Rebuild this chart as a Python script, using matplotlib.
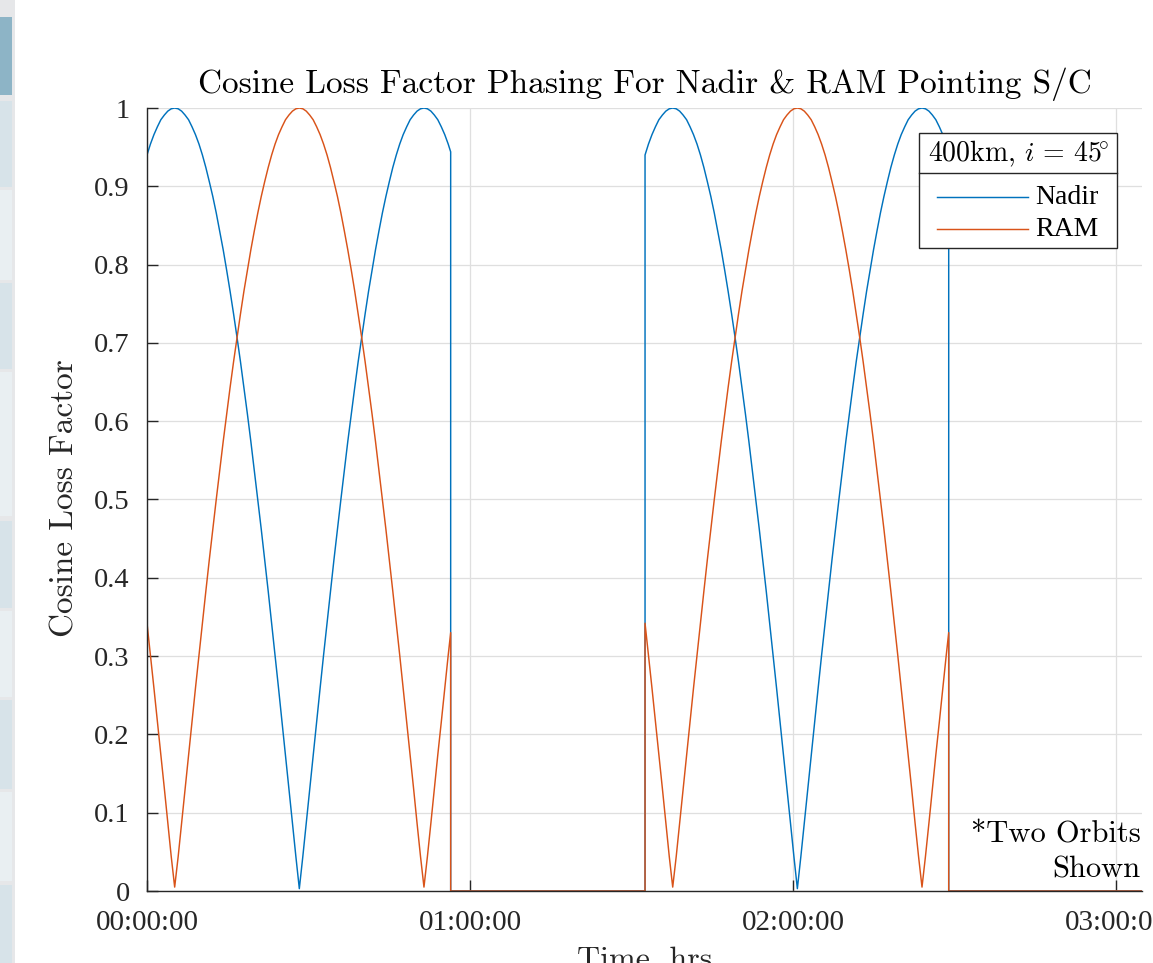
import matplotlib
matplotlib.use("Agg")
import matplotlib.pyplot as plt
from matplotlib.patches import Rectangle

# sunlit part of one orbit, minutes from start of the pass
t_orbit = [0.00, 0.64, 1.29, 1.93, 2.57, 3.22, 3.86, 4.50, 5.14, 5.79,
           6.43, 7.07, 7.72, 8.36, 9.00, 9.65, 10.29, 10.93, 11.57, 12.22,
           12.86, 13.50, 14.15, 14.79, 15.43, 16.08, 16.72, 17.36, 18.00, 18.65,
           19.29, 19.93, 20.58, 21.22, 21.86, 22.51, 23.15, 23.79, 24.43, 25.08,
           25.72, 26.36, 27.01, 27.65, 28.29, 28.94, 29.58, 30.22, 30.86, 31.51,
           32.15, 32.79, 33.44, 34.08, 34.72, 35.37, 36.01, 36.65, 37.29, 37.94,
           38.58, 39.22, 39.87, 40.51, 41.15, 41.80, 42.44, 43.08, 43.72, 44.37,
           45.01, 45.65, 46.30, 46.94, 47.58, 48.23, 48.87, 49.51, 50.15, 50.80,
           51.44, 52.08, 52.73, 53.37, 54.01, 54.66, 55.30, 55.94, 56.40]
nadir_orbit = [0.940, 0.954, 0.966, 0.976, 0.985, 0.991, 0.996, 0.999, 1.000, 0.999,
               0.996, 0.991, 0.985, 0.976, 0.966, 0.954, 0.940, 0.924, 0.906, 0.887,
               0.866, 0.843, 0.819, 0.793, 0.766, 0.737, 0.707, 0.676, 0.643, 0.609,
               0.574, 0.537, 0.500, 0.462, 0.423, 0.383, 0.342, 0.301, 0.259, 0.216,
               0.174, 0.131, 0.087, 0.044, 0.003, 0.044, 0.087, 0.131, 0.174, 0.216,
               0.259, 0.301, 0.342, 0.383, 0.423, 0.462, 0.500, 0.537, 0.574, 0.609,
               0.643, 0.676, 0.707, 0.737, 0.766, 0.793, 0.819, 0.843, 0.866, 0.887,
               0.906, 0.924, 0.940, 0.954, 0.966, 0.976, 0.985, 0.991, 0.996, 0.999,
               1.000, 0.999, 0.996, 0.991, 0.985, 0.976, 0.966, 0.954, 0.944]
ram_orbit = [0.342, 0.301, 0.259, 0.216, 0.174, 0.131, 0.087, 0.044, 0.005, 0.044,
             0.087, 0.131, 0.174, 0.216, 0.259, 0.301, 0.342, 0.383, 0.423, 0.462,
             0.500, 0.537, 0.574, 0.609, 0.643, 0.676, 0.707, 0.737, 0.766, 0.793,
             0.819, 0.843, 0.866, 0.887, 0.906, 0.924, 0.940, 0.954, 0.966, 0.976,
             0.985, 0.991, 0.996, 0.999, 1.000, 0.999, 0.996, 0.991, 0.985, 0.976,
             0.966, 0.954, 0.940, 0.924, 0.906, 0.887, 0.866, 0.843, 0.819, 0.793,
             0.766, 0.737, 0.707, 0.676, 0.643, 0.609, 0.574, 0.537, 0.500, 0.462,
             0.423, 0.383, 0.342, 0.301, 0.259, 0.216, 0.174, 0.131, 0.087, 0.044,
             0.005, 0.044, 0.087, 0.131, 0.174, 0.216, 0.259, 0.301, 0.330]
orbit_start = [0.0, 92.5]   # minutes
t_stop = 190.0

xtick_min = [0, 60, 120, 180]
xtick_labels = ["00:00:00", "01:00:00", "02:00:00", "03:00:00"]
ytick_vals = [0, 0.1, 0.2, 0.3, 0.4, 0.5, 0.6, 0.7, 0.8, 0.9, 1]
ytick_labels = ["0", "0.1", "0.2", "0.3", "0.4", "0.5", "0.6", "0.7", "0.8", "0.9", "1"]
series_names = ["Nadir", "RAM"]
series_colors = ["#0072BD", "#D95319"]

# build the full time series (zero while in eclipse)
t_all, nadir_all, ram_all = [], [], []
for start in orbit_start:
    if start > 0:
        t_all.append(start); nadir_all.append(0); ram_all.append(0)
    for t, n, r in zip(t_orbit, nadir_orbit, ram_orbit):
        t_all.append(start + t); nadir_all.append(n); ram_all.append(r)
    t_all.append(start + t_orbit[-1]); nadir_all.append(0); ram_all.append(0)
t_all.append(t_stop); nadir_all.append(0); ram_all.append(0)

plt.rcParams["mathtext.fontset"] = "cm"
plt.rcParams["axes.unicode_minus"] = False
CM = "cmr10"
SERIF = "Liberation Serif"
dark = "#262626"

W, H = 1153, 963
fig = plt.figure(figsize=(W / 100, H / 100), dpi=100)

# left window strip from the screenshot
strip = [(17, 95, "#8db4c6"), (101, 187, "#d7e3e9"), (190, 280, "#e9eff2"),
         (283, 369, "#d7e3e9"), (372, 516, "#e9eff2"), (521, 608, "#d7e3e9"), (611, 697, "#e9eff2"),
         (700, 789, "#d7e3e9"), (792, 881, "#e9eff2"), (885, 963, "#d7e3e9")]
fig.add_artist(Rectangle((0, 0), 15 / W, 1, transform=fig.transFigure, color="#e6e7e9", lw=0))
for y0, y1, c in strip:
    fig.add_artist(Rectangle((0, 1 - y1 / H), 12 / W, (y1 - y0) / H,
                             transform=fig.transFigure, color=c, lw=0))

AX_L, AX_B, AX_W, AX_H = 147, 72, 995, 783
ax = fig.add_axes([AX_L / W, AX_B / H, AX_W / W, AX_H / H])
ax.plot(t_all, nadir_all, color=series_colors[0], lw=1.05)
ax.plot(t_all, ram_all, color=series_colors[1], lw=1.05)

ax.set_xlim(0, 184.8)
ax.set_ylim(0, 1)
ax.set_xticks(xtick_min)
ax.set_xticklabels(xtick_labels, fontfamily=SERIF, fontsize=21, color=dark)
ax.set_yticks(ytick_vals)
ax.set_yticklabels(ytick_labels, fontfamily=SERIF, fontsize=20.5, color=dark)
ax.tick_params(direction="in", length=8, width=1.0, color=dark)
ax.tick_params(axis="y", pad=12.5)
ax.tick_params(axis="x", pad=14)
ax.grid(True, color="#dfdfdf", lw=0.9)
ax.set_axisbelow(True)
for s in ["top", "right"]:
    ax.spines[s].set_visible(False)
for s in ["left", "bottom"]:
    ax.spines[s].set_color(dark)
    ax.spines[s].set_linewidth(1.0)

fig.text(645 / W, 1 - 84 / H, "Cosine Loss Factor Phasing For Nadir & RAM Pointing S/C",
         family=CM, fontsize=24, ha="center", va="center", color="black")
fig.text(65 / W, 1 - 498 / H, "Cosine Loss Factor", family=CM, fontsize=24,
         rotation=90, ha="center", va="center", color=dark)
fig.text(645 / W, 1 - 960 / H, "Time, hrs", family=CM, fontsize=23,
         ha="center", va="center", color=dark)
ax.text(0.9985, 0.01, "*Two Orbits\nShown", transform=ax.transAxes, family=CM,
        fontsize=22, ha="right", va="bottom", linespacing=1.35, color="black")


# MATLAB style legend box with a title row, placed in pixels of the screenshot
def axp(px, py):
    return (px - AX_L) / AX_W, (H - AX_B - py) / AX_H


bx0, by0 = axp(919, 248)
bx1, by1 = axp(1117, 133)
ax.add_patch(Rectangle((bx0, by0), bx1 - bx0, by1 - by0, transform=ax.transAxes,
                       facecolor="white", edgecolor=dark, lw=1.0, zorder=5))
sx0, sy = axp(919, 173)
ax.plot([sx0, bx1], [sy, sy], transform=ax.transAxes, color=dark, lw=1.0, zorder=6)
tx, ty = axp(1018, 154)
ax.text(tx, ty, "400km, $i\\,=\\,45\\!^{\\circ}$", transform=ax.transAxes, family=CM,
        fontsize=20, ha="center", va="center", zorder=6)
for k, (name, col) in enumerate(zip(series_names, series_colors)):
    yy = 197 + 32 * k
    hx0, hy = axp(937, yy)
    hx1, _ = axp(1028, yy)
    ax.plot([hx0, hx1], [hy, hy], transform=ax.transAxes, color=col, lw=1.05, zorder=6)
    lx, ly = axp(1035, yy)
    ax.text(lx, ly, name, transform=ax.transAxes, family=SERIF, fontsize=20,
            ha="left", va="center", zorder=6)

fig.savefig("out.png", dpi=100)
